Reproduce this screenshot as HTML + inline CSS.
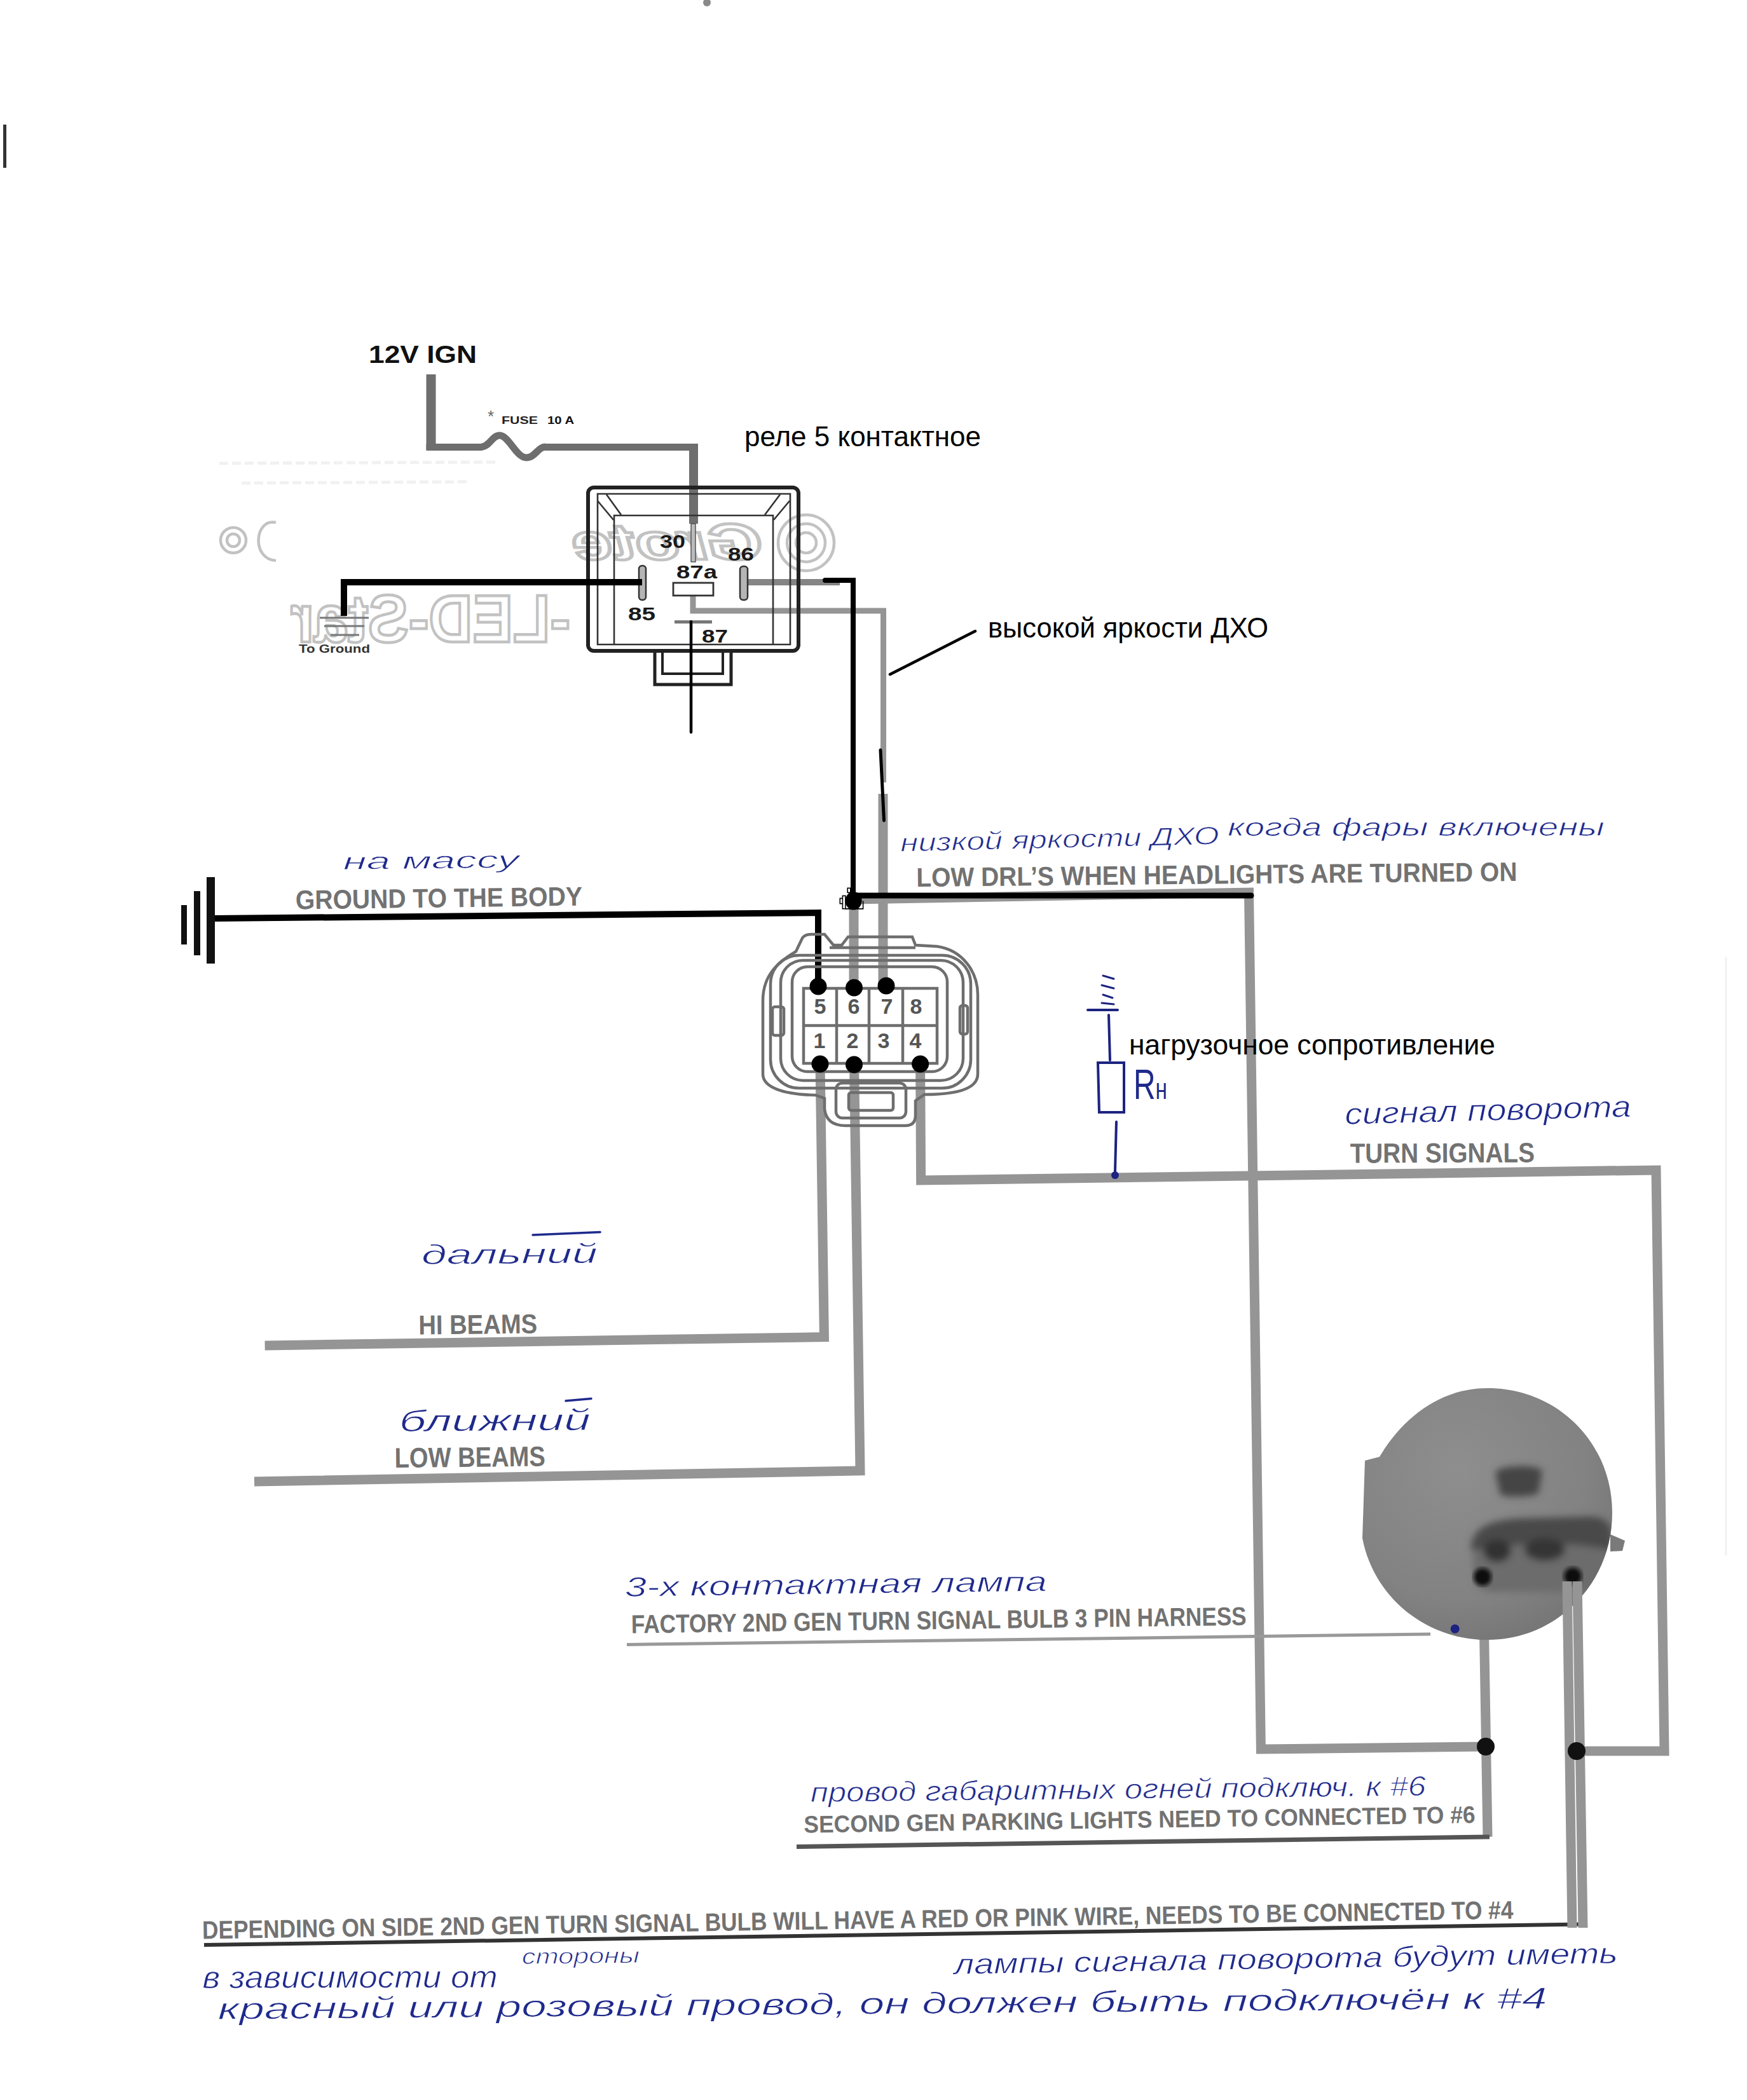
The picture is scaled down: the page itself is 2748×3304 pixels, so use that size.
<!DOCTYPE html>
<html><head><meta charset="utf-8">
<style>
html,body{margin:0;padding:0;background:#fff;}
body{width:2748px;height:3304px;overflow:hidden;}
svg{position:absolute;left:0;top:0;display:block;}
.pr{font-family:"Liberation Sans",sans-serif;fill:#727272;}
.cal{font-family:"Liberation Sans",sans-serif;fill:#000;}
.hw{font-family:"Liberation Sans",sans-serif;font-style:italic;fill:#1f2a8c;stroke:#fff;stroke-width:0.9px;}
</style></head><body>
<svg width="2748" height="3304" viewBox="0 0 2748 3304">
<rect x="0" y="0" width="2748" height="3304" fill="#fff"/>


<!-- ===== GHOST (faint show-through) ===== -->
<defs><clipPath id="gclip"><rect x="437" y="900" width="470" height="130"/></clipPath></defs>
<g fill="none" stroke="#c2c2c2" stroke-width="4.5">
  <g clip-path="url(#gclip)">
    <text transform="translate(897 0) scale(-1 1)" x="0" y="1010" font-size="106" font-weight="bold" font-family="Liberation Sans, sans-serif" textLength="440" lengthAdjust="spacingAndGlyphs">-LED-Star</text>
  </g>
  <text transform="translate(1200 0) scale(-1 1)" x="0" y="880" font-size="80" font-weight="bold" font-style="italic" font-family="Liberation Sans, sans-serif" textLength="300" lengthAdjust="spacingAndGlyphs">Grote</text>
  <circle cx="1268" cy="854" r="44"/><circle cx="1268" cy="854" r="30"/><circle cx="1268" cy="854" r="16"/>
  <circle cx="367" cy="850" r="20"/><circle cx="367" cy="850" r="10"/>
  <path d="M434 822 C400 815 395 880 434 882"/>
</g>
<g stroke="#f1f1f1" stroke-width="5" fill="none" stroke-dasharray="14 6">
  <path d="M345 729 L780 727"/><path d="M380 760 L740 758"/>
</g>
<path d="M2715 1506 V2447" stroke="#ececec" stroke-width="2"/>
<rect x="5" y="196" width="5" height="68" fill="#333"/>
<circle cx="1112" cy="4" r="6" fill="#8a8a8a"/>

<!-- ===== GRAY WIRES ===== -->
<g id="wires" fill="none" stroke="#959595" stroke-width="15" stroke-linejoin="miter" stroke-linecap="butt">
  <!-- 12V IGN -->
  <path d="M678 589 V708" stroke="#6e6e6e" stroke-width="15"/>
  <path d="M670.5 703.5 H759" stroke="#6e6e6e" stroke-width="11"/>
  <path d="M857 703.5 H1097" stroke="#6e6e6e" stroke-width="11"/>
  <path d="M1091 698 V824" stroke="#6e6e6e" stroke-width="14"/>
  <!-- 86 wire -->
  <path d="M1176 916 H1321" stroke-width="10" stroke="#858585"/>
  <!-- 87a wire -->
  <path d="M1090 937 V961 H1389.5 V1231" stroke-width="9"/>
  <path d="M1389 1249 V1552" stroke-width="15"/>
  <!-- gray under black junction horizontal -->
  <path d="M1343 1415 L1972 1404" stroke-width="15"/>
  <!-- pin 6 down from junction -->
  <path d="M1343 1420 V1552"/>
  <!-- long right loop: from junction corner down to bulb -->
  <path d="M1964.5 1404 L1983.4 2752 L2337 2748"/>
  <!-- pin1 -> HI BEAMS -->
  <path d="M1290 1674 L1296.4 2103.6 L416.6 2117"/>
  <!-- pin2 -> LOW BEAMS -->
  <path d="M1343.5 1675 L1353 2314 L400 2331"/>
  <!-- pin4 -> turn signals loop -->
  <path d="M1447.6 1674 L1448.6 1857 L2605 1841 L2618 2755 L2480 2755"/>
  <!-- bulb left pin down -->
  <path d="M2333 2480 L2340 2890"/>
</g>
<!-- fuse -->
<path d="M757 703 C770 703 774 685 786 685 C800 685 812 720 828 720 C842 720 846 703 858 703" fill="none" stroke="#6e6e6e" stroke-width="11"/>
<!-- relay pin 30 thin -->
<rect x="1087" y="824" width="7" height="60" fill="#bbb" stroke="#555" stroke-width="1.5"/>

<!-- ===== RELAY ===== -->
<g id="relay" fill="none" stroke="#222">
  <rect x="925" y="767" width="331" height="257" rx="9" stroke-width="6"/>
  <path d="M940 1014 V777 H1243 V1014 Z" stroke-width="2.6" stroke="#333"/>
  <path d="M966 1014 V811 H1216 V1014" stroke-width="2.6" stroke="#333"/>
  <path d="M940 788 L965 818 M954 778 L977 810 M1242 788 L1217 818 M1227 778 L1203 810" stroke-width="2.6" stroke="#333"/>
  <path d="M1030 1027 V1077 H1150 V1027" stroke-width="5"/>
  <path d="M1042 1027 V1060 H1137 V1027" stroke-width="4"/>
  <rect x="1005" y="890" width="11" height="54" rx="5" fill="#b5b5b5" stroke-width="2.5" stroke="#333"/>
  <rect x="1164" y="891" width="12" height="53" rx="5" fill="#b5b5b5" stroke-width="2.5" stroke="#333"/>
  <rect x="1059" y="917" width="63" height="20" fill="#fff" stroke-width="2.8" stroke="#333"/>
  <rect x="1061" y="976" width="59" height="5" fill="#777" stroke="none"/>
</g>
<g class="pr" style="font-weight:bold;fill:#1a1a1a" font-size="30">
  <text x="1038" y="862" textLength="40" lengthAdjust="spacingAndGlyphs">30</text>
  <text x="1145" y="882" textLength="41" lengthAdjust="spacingAndGlyphs">86</text>
  <text x="1064" y="910" textLength="64" lengthAdjust="spacingAndGlyphs">87a</text>
  <text x="988" y="976" textLength="43" lengthAdjust="spacingAndGlyphs">85</text>
  <text x="1104" y="1011" textLength="41" lengthAdjust="spacingAndGlyphs">87</text>
</g>

<!-- ===== BLACK (digital) LINES ===== -->
<g fill="none" stroke="#000" stroke-linecap="round">
  <path d="M1010 916 H541 V969" stroke-width="10" stroke-linecap="butt"/>
  <path d="M1298 913 H1342 V1414" stroke-width="8"/>
  <path d="M1087 978 V1152" stroke-width="4.5"/>
  <path d="M1400 1061 L1534 993" stroke-width="4.5"/>
  <path d="M1341 1409 H1968" stroke-width="9"/>
  <path d="M1385 1180 L1390.5 1291" stroke-width="5"/>
  <path d="M338 1445 L1287 1436 L1287 1552" stroke-width="10" stroke-linecap="butt"/>
</g>
<g stroke="#000" stroke-width="1.6" fill="#fff">
  <rect x="1333.2" y="1397.3" width="4.6" height="7"/>
  <rect x="1321.3" y="1413.4" width="5" height="8.3"/>
  <rect x="1325.4" y="1409.4" width="4.5" height="20.4"/>
  <path d="M1330 1429.9 H1357.6 V1417.5" fill="none"/>
</g>
<ellipse cx="1342.6" cy="1417.3" rx="13" ry="14.3" fill="#000"/>

<!-- 12V IGN label -->
<text x="580" y="571" font-size="38" font-weight="bold" class="pr" style="fill:#111" textLength="170" lengthAdjust="spacingAndGlyphs">12V IGN</text>
<text x="767" y="664" font-size="26" class="pr" style="fill:#666">*</text>
<text x="789" y="667" font-size="17" font-weight="bold" class="pr" style="fill:#222" textLength="57" lengthAdjust="spacingAndGlyphs">FUSE</text>
<text x="861" y="667" font-size="17" font-weight="bold" class="pr" style="fill:#111" textLength="42" lengthAdjust="spacingAndGlyphs">10 A</text>

<!-- Calibri-like Russian labels -->
<text x="1171" y="702" font-size="44" class="cal" textLength="372" lengthAdjust="spacingAndGlyphs">реле 5 контактное</text>
<text x="1554" y="1003" font-size="44" class="cal" textLength="441" lengthAdjust="spacingAndGlyphs">высокой яркости ДХО</text>
<text x="1776" y="1659" font-size="44" class="cal" textLength="576" lengthAdjust="spacingAndGlyphs">нагрузочное сопротивление</text>


<!-- ground symbol near relay -->
<g stroke="#777" stroke-width="3" fill="none">
  <path d="M503 972 H580 M510 985 H573 M520 999 H565"/>
</g>
<text x="470" y="1027" font-size="19" font-weight="bold" class="pr" style="fill:#333" textLength="112" lengthAdjust="spacingAndGlyphs">To Ground</text>

<!-- ===== CONNECTOR ===== -->
<g id="conn" fill="none" stroke="#6e6e6e" stroke-width="4.5">
  <path d="M1200 1574 C1200 1530 1230 1510 1252 1497 L1262 1476 Q1266 1470 1276 1470 L1297 1470 L1311 1487 L1324 1487 L1334 1474 L1435 1474 L1440 1487 L1474 1489 C1515 1495 1538 1530 1538 1565 L1538 1690 C1538 1715 1500 1722 1454 1722 L1440 1732 L1440 1755 Q1440 1771 1424 1771 L1330 1771 Q1300 1771 1297 1745 L1297 1728 L1283 1723 C1230 1722 1200 1710 1200 1690 Z"/>
  <path d="M1305 1491 H1440"/>
  <rect x="1212" y="1503" width="315" height="209" rx="45"/>
  <rect x="1228" y="1511" width="287" height="189" rx="35"/>
  <rect x="1246" y="1521" width="244" height="165" rx="24"/>
  <rect x="1264" y="1555" width="210" height="118"/>
  <path d="M1264 1613.5 H1474 M1316 1555 V1673 M1367 1555 V1673 M1420 1555 V1673"/>
  <rect x="1215" y="1584" width="18" height="45" rx="4"/>
  <rect x="1510" y="1582" width="12" height="45" rx="4"/>
  <rect x="1315" y="1704" width="110" height="55" rx="10"/>
  <rect x="1335" y="1719" width="70" height="28" rx="4"/>
</g>
<g class="pr" style="font-weight:bold;fill:#555" font-size="34" text-anchor="middle">
  <text x="1290" y="1595">5</text><text x="1343" y="1595">6</text><text x="1395" y="1595">7</text><text x="1441" y="1595">8</text>
  <text x="1289" y="1649">1</text><text x="1341" y="1649">2</text><text x="1390" y="1649">3</text><text x="1440" y="1649">4</text>
</g>
<g fill="#000">
  <circle cx="1287" cy="1552" r="13.5"/><circle cx="1343.5" cy="1554" r="13.5"/><circle cx="1394" cy="1551" r="13.5"/>
  <circle cx="1290" cy="1674" r="13.5"/><circle cx="1343.5" cy="1675" r="13.5"/><circle cx="1447.6" cy="1674" r="13.5"/>
</g>

<!-- ===== LEFT GROUND SYMBOL ===== -->
<g fill="#111">
  <rect x="285" y="1424" width="9" height="62"/>
  <rect x="305" y="1402" width="10" height="101"/>
  <rect x="325" y="1380" width="13" height="136"/>
</g>


<!-- ===== PRINTED LABELS ===== -->
<g class="pr" font-weight="bold">
  <text x="465" y="1430.4" font-size="42.2" textLength="451.0" lengthAdjust="spacingAndGlyphs" transform="rotate(-0.737 465 1430.4)">GROUND TO THE BODY</text>
  <text x="1441.4" y="1395" font-size="42.2" textLength="945.2" lengthAdjust="spacingAndGlyphs" transform="rotate(-0.546 1441.4 1395)">LOW DRL’S WHEN HEADLIGHTS ARE TURNED ON</text>
  <text x="2123.7" y="1829.5" font-size="43.6" textLength="290.3" lengthAdjust="spacingAndGlyphs" transform="rotate(-0.197 2123.7 1829.5)">TURN SIGNALS</text>
  <text x="658.4" y="2099.5" font-size="42.9" textLength="186.9" lengthAdjust="spacingAndGlyphs" transform="rotate(-0.613 658.4 2099.5)">HI BEAMS</text>
  <text x="620.8" y="2309" font-size="44.3" textLength="237.2" lengthAdjust="spacingAndGlyphs" transform="rotate(-0.604 620.8 2309)">LOW BEAMS</text>
  <text x="992.9" y="2569.5" font-size="40.7" textLength="968.0" lengthAdjust="spacingAndGlyphs" transform="rotate(-0.758 992.9 2569.5)">FACTORY 2ND GEN TURN SIGNAL BULB 3 PIN HARNESS</text>
  <text x="1264.6" y="2883.5" font-size="37.8" textLength="1056.3" lengthAdjust="spacingAndGlyphs" transform="rotate(-0.841 1264.6 2883.5)">SECOND GEN PARKING LIGHTS NEED TO CONNECTED TO #6</text>
  <text x="318.3" y="3050.4" font-size="40.0" textLength="2062.5" lengthAdjust="spacingAndGlyphs" transform="rotate(-0.883 318.3 3050.4)">DEPENDING ON SIDE 2ND GEN TURN SIGNAL BULB WILL HAVE A RED OR PINK WIRE, NEEDS TO BE CONNECTED TO #4</text>
</g>
<!-- leader lines -->
<g fill="none" stroke="#555">
  <path d="M986 2587.5 L2250 2571" stroke-width="5" stroke="#999"/>
  <path d="M1253 2905.5 L2343 2890" stroke-width="7" stroke="#555"/>
  <path d="M321 3060 L2489 3027.5" stroke-width="6" stroke="#333"/>
</g>

<!-- ===== HANDWRITING ===== -->
<g class="hw">
  <text x="539.8" y="1368" font-size="36.9" textLength="277.0" lengthAdjust="spacingAndGlyphs" transform="rotate(-0.621 539.8 1368)">на массу</text>
  <text x="1416.6" y="1339.6" font-size="39.8" textLength="501.5" lengthAdjust="spacingAndGlyphs" transform="rotate(-1.325 1416.6 1339.6)">низкой яркости ДХО</text>
  <text x="1931" y="1315" font-size="39.8" textLength="593.0" lengthAdjust="spacingAndGlyphs" transform="rotate(-0.029 1931 1315)">когда фары включены</text>
  <text x="2115.7" y="1769" font-size="47.4" textLength="450.5" lengthAdjust="spacingAndGlyphs" transform="rotate(-1.527 2115.7 1769)">сигнал поворота</text>
  <text x="663" y="1989" font-size="43.6" textLength="277.0" lengthAdjust="spacingAndGlyphs" transform="rotate(-0.414 663 1989)">дальний</text>
  <text x="628" y="2252" font-size="47.4" textLength="301.0" lengthAdjust="spacingAndGlyphs" transform="rotate(-0.381 628 2252)">ближний</text>
  <text x="983" y="2512" font-size="43.6" textLength="664.1" lengthAdjust="spacingAndGlyphs" transform="rotate(-0.777 983 2512)">3-х контактная лампа</text>
  <text x="1275" y="2835" font-size="43.6" textLength="968.1" lengthAdjust="spacingAndGlyphs" transform="rotate(-0.592 1275 2835)">провод габаритных огней подключ. к #6</text>
  <text x="318.4" y="3128" font-size="49.2" textLength="464.4" lengthAdjust="spacingAndGlyphs" transform="rotate(-0.123 318.4 3128)">в зависимости от</text>
  <text x="821" y="3090" font-size="34.1" textLength="185.0" lengthAdjust="spacingAndGlyphs" transform="rotate(-0.619 821 3090)">стороны</text>
  <text x="1501" y="3106" font-size="45.5" textLength="1044.1" lengthAdjust="spacingAndGlyphs" transform="rotate(-0.960 1501 3106)">лампы сигнала поворота будут иметь</text>
  <text x="342.8" y="3177" font-size="47.4" textLength="2090.8" lengthAdjust="spacingAndGlyphs" transform="rotate(-0.466 342.8 3177)">красный или розовый провод, он должен быть подключён к #4</text>
</g>

<g fill="none" stroke="#1f2a8c" stroke-width="3.5" stroke-linecap="round">
  <path d="M838 1943 L944 1938.5"/>
  <path d="M890 2204 L930 2200.5"/>
</g>
<!-- ===== RESISTOR (hand drawn) ===== -->
<g fill="none" stroke="#1c2380" stroke-width="4" stroke-linecap="round">
  <path d="M1711 1589 H1758"/>
  <path d="M1744 1597 L1746 1668"/>
  <path d="M1727 1672 H1768 V1750 H1729 Z"/>
  <path d="M1756 1765 L1754 1843"/>
  <path d="M1735 1535 L1752 1540 M1733 1550 L1752 1555 M1735 1565 L1750 1570 M1733 1578 L1752 1580" stroke-width="3"/>
</g>
<circle cx="1754" cy="1849" r="6" fill="#1c2380"/>
<text x="1783" y="1729" class="hw" style="font-style:normal;stroke:none" font-size="66" textLength="53" lengthAdjust="spacingAndGlyphs">R<tspan font-size="46">н</tspan></text>

<!-- ===== BULB ===== -->
<defs>
  <radialGradient id="bg1" cx="0.38" cy="0.32" r="0.75">
    <stop offset="0" stop-color="#8e8e8e"/><stop offset="0.7" stop-color="#828282"/><stop offset="1" stop-color="#747474"/>
  </radialGradient>
  <filter id="bl3" x="-10%" y="-10%" width="120%" height="120%"><feGaussianBlur stdDeviation="3"/></filter>
  <filter id="bl6" x="-20%" y="-20%" width="140%" height="140%"><feGaussianBlur stdDeviation="6"/></filter>
  <clipPath id="discclip"><path d="M2147 2298 L2170 2292 C2210 2225 2270 2184 2340 2184 C2450 2184 2536 2270 2536 2380 C2536 2490 2450 2580 2340 2580 C2240 2580 2160 2510 2143 2420 Z"/></clipPath>
</defs>
<g id="bulb">
  <path d="M2147 2298 L2170 2292 C2210 2225 2270 2184 2340 2184 C2450 2184 2536 2270 2536 2380 C2536 2490 2450 2580 2340 2580 C2240 2580 2160 2510 2143 2420 Z" fill="url(#bg1)"/>
  <g clip-path="url(#discclip)"><g filter="url(#bl6)">
    <path d="M2318 2470 C2312 2420 2330 2395 2380 2390 L2500 2386 C2530 2386 2538 2405 2537 2430 L2536 2480 C2530 2500 2510 2505 2480 2505 L2350 2505 C2325 2505 2320 2490 2318 2470 Z" fill="#6c6c6c"/>
    <path d="M2314 2432 C2318 2405 2340 2392 2390 2389 L2500 2386 C2525 2386 2536 2398 2536 2418 L2534 2440 C2500 2430 2450 2428 2400 2430 C2360 2432 2330 2436 2314 2440 Z" fill="#484848"/>
    <ellipse cx="2355" cy="2440" rx="22" ry="18" fill="#333"/>
    <ellipse cx="2430" cy="2438" rx="32" ry="18" fill="#363636"/>
    <path d="M2352 2316 C2362 2304 2418 2304 2426 2314 L2420 2350 C2400 2356 2375 2356 2360 2352 Z" fill="#444"/>
  </g></g>
  <path d="M2533 2414 L2556 2424 L2552 2440 L2533 2441 Z" fill="#7a7a7a"/>
  <circle cx="2332" cy="2481" r="14" fill="#111" filter="url(#bl3)"/>
  <circle cx="2474" cy="2480" r="14" fill="#111" filter="url(#bl3)"/>
  <circle cx="2288.7" cy="2562.8" r="7" fill="#1c2380"/>
</g>

<!-- wires from bulb right pin: double line -->
<g fill="none" stroke="#959595" stroke-width="15">
  <path d="M2465 2488 L2473 3033"/>
  <path d="M2481 2488 L2490 3033"/>
</g>
<circle cx="2337" cy="2748" r="14" fill="#111"/>
<circle cx="2480" cy="2755" r="14" fill="#111"/>

</svg>
</body></html>
